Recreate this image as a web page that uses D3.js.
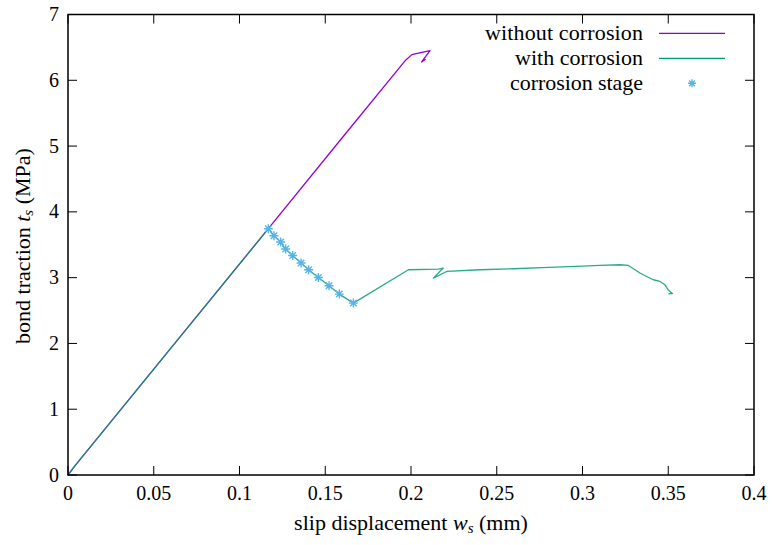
<!DOCTYPE html>
<html>
<head>
<meta charset="utf-8">
<script src="https://cdn.jsdelivr.net/npm/d3@7"></script>
<style>
  html, body { margin: 0; padding: 0; background: #fff; }
  svg text, svg tspan { font-family: "Liberation Serif", "Times New Roman", serif; fill: #000; }
</style>
</head>
<body>
<svg id="chart" width="774" height="545"></svg>
<script>
// Bond traction vs. slip, with and without corrosion
const wsWithout = [0, 0.004, 0.05, 0.1168, 0.16, 0.197, 0.2005, 0.205, 0.2111, 0.2062, 0.2085];
const tsWithout = [0, 0.14, 1.61, 3.744, 5.13, 6.31, 6.39, 6.415, 6.45, 6.28, 6.32];

const wsWith = [0, 0.004, 0.05, 0.1168, 0.1201, 0.1240, 0.1269, 0.1310, 0.1359, 0.1403, 0.1460, 0.1522, 0.1582, 0.1664,
  0.1985, 0.216, 0.2188, 0.2130, 0.2208, 0.2402, 0.26, 0.28, 0.30, 0.31, 0.3219, 0.3267, 0.3306, 0.3335, 0.3374,
  0.3413, 0.3452, 0.3481, 0.3500, 0.3520, 0.3504, 0.3528];
const tsWith = [0, 0.14, 1.61, 3.744, 3.637, 3.541, 3.435, 3.337, 3.222, 3.120, 3.003, 2.876, 2.750, 2.613,
  3.12, 3.13, 3.146, 2.993, 3.094, 3.12, 3.135, 3.155, 3.175, 3.185, 3.196, 3.185, 3.120, 3.070, 3.018,
  2.968, 2.942, 2.891, 2.815, 2.765, 2.755, 2.762];

const wsStage = [0.1168, 0.1201, 0.1240, 0.1269, 0.1310, 0.1359, 0.1403, 0.1460, 0.1522, 0.1582, 0.1664];
const tsStage = [3.744, 3.637, 3.541, 3.435, 3.337, 3.222, 3.120, 3.003, 2.876, 2.750, 2.613];

const xTicks = [0, 0.05, 0.1, 0.15, 0.2, 0.25, 0.3, 0.35, 0.4];
const xTickLabels = ["0", "0.05", "0.1", "0.15", "0.2", "0.25", "0.3", "0.35", "0.4"];
const yTicks = [0, 1, 2, 3, 4, 5, 6, 7];

const legendLabels = ["without corrosion", "with corrosion", "corrosion stage"];
const colWithout = "#9400d3", colWith = "#009e73", colStage = "#56b4e9";

const serif = "'Liberation Serif', 'Times New Roman', serif";
const svg = d3.select("#chart");
const plotL = 68, plotR = 754, plotT = 14.5, plotB = 475;
const x = d3.scaleLinear().domain([0, 0.4]).range([plotL, plotR]);
const y = d3.scaleLinear().domain([0, 7]).range([plotB, plotT]);
const tickLen = 9, fs = 20, titleFs = 22;

// ticks (inward on all four sides)
const gx = svg.append("g");
xTicks.forEach((v, i) => {
  const px = x(v);
  gx.append("line").attr("x1", px).attr("x2", px).attr("y1", plotB).attr("y2", plotB - tickLen).attr("stroke", "#000");
  gx.append("line").attr("x1", px).attr("x2", px).attr("y1", plotT).attr("y2", plotT + tickLen).attr("stroke", "#000");
  gx.append("text").attr("x", px).attr("y", 500).attr("text-anchor", "middle")
    .style("font-family", serif).attr("font-size", fs)
    .append("tspan").text(xTickLabels[i]);
});
const gy = svg.append("g");
yTicks.forEach(v => {
  const py = y(v);
  gy.append("line").attr("x1", plotL).attr("x2", plotL + tickLen).attr("y1", py).attr("y2", py).attr("stroke", "#000");
  gy.append("line").attr("x1", plotR).attr("x2", plotR - tickLen).attr("y1", py).attr("y2", py).attr("stroke", "#000");
  gy.append("text").attr("x", 59).attr("y", py + 6.5).attr("text-anchor", "end")
    .style("font-family", serif).attr("font-size", fs)
    .append("tspan").text(v);
});

// curves
const line = (xs, ys) => d3.line().x((d, i) => x(xs[i])).y((d, i) => y(ys[i]))(xs);
svg.append("path").attr("d", line(wsWithout, tsWithout)).attr("fill", "none")
  .attr("stroke", colWithout).attr("stroke-width", 1.3).attr("stroke-linejoin", "round");
svg.append("path").attr("d", line(wsWith, tsWith)).attr("fill", "none")
  .attr("stroke", colWith).attr("stroke-width", 1.3).attr("stroke-opacity", 0.85).attr("stroke-linejoin", "round");

// asterisk marker (plus and cross overlaid)
function star(g, cx, cy, r) {
  const s = r * 0.72;
  const p = `M${cx - r},${cy}H${cx + r}M${cx},${cy - r}V${cy + r}` +
            `M${cx - s},${cy - s}L${cx + s},${cy + s}M${cx - s},${cy + s}L${cx + s},${cy - s}`;
  g.append("path").attr("d", p).attr("stroke", colStage).attr("stroke-width", 1.4).attr("fill", "none");
}
const gs = svg.append("g");
wsStage.forEach((v, i) => star(gs, x(v), y(tsStage[i]), 4.5));

// frame
svg.append("rect").attr("x", plotL).attr("y", plotT).attr("width", plotR - plotL).attr("height", plotB - plotT)
  .attr("fill", "none").attr("stroke", "#000").attr("stroke-width", 1.5);

// legend
const legTextX = 643, legLineX1 = 659, legLineX2 = 725, legY0 = 33.3, legDy = 25;
const legWidths = [158, 128, 133];
legendLabels.forEach((t, i) => {
  const ly = legY0 + i * legDy;
  svg.append("text").attr("x", legTextX).attr("y", ly + 6.5).attr("text-anchor", "end")
    .style("font-family", serif).attr("font-size", 22)
    .attr("textLength", legWidths[i]).attr("lengthAdjust", "spacing")
    .append("tspan").text(t);
  if (i === 0) svg.append("line").attr("x1", legLineX1).attr("x2", legLineX2).attr("y1", ly).attr("y2", ly)
    .attr("stroke", colWithout).attr("stroke-width", 1.3);
  if (i === 1) svg.append("line").attr("x1", legLineX1).attr("x2", legLineX2).attr("y1", ly).attr("y2", ly)
    .attr("stroke", colWith).attr("stroke-width", 1.3);
  if (i === 2) star(svg, (legLineX1 + legLineX2) / 2, ly, 4);
});

// axis titles
const xt = svg.append("text").attr("x", (plotL + plotR) / 2).attr("y", 530).attr("text-anchor", "middle")
  .style("font-family", serif).attr("font-size", titleFs);
xt.append("tspan").text("slip displacement ");
xt.append("tspan").attr("font-style", "italic").text("w");
xt.append("tspan").attr("font-style", "italic").attr("font-size", 15).attr("dy", 3).text("s");
xt.append("tspan").attr("dy", -3).text(" (mm)");

const yt = svg.append("text").attr("transform", "translate(30,246) rotate(-90)").attr("text-anchor", "middle")
  .style("font-family", serif).attr("font-size", titleFs);
yt.append("tspan").text("bond traction ");
yt.append("tspan").attr("font-style", "italic").text("t");
yt.append("tspan").attr("font-style", "italic").attr("font-size", 15).attr("dy", 3).text("s");
yt.append("tspan").attr("dy", -3).text(" (MPa)");
</script>
</body>
</html>
